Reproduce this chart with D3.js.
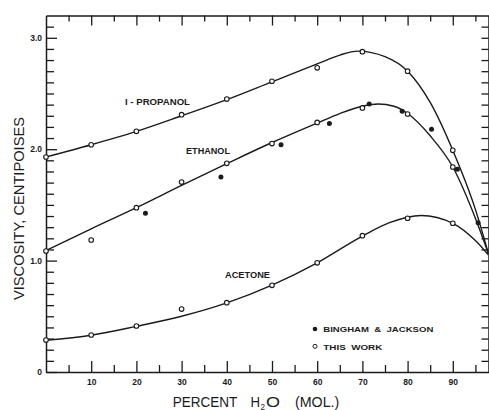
<!DOCTYPE html>
<html><head><meta charset="utf-8">
<script src="https://cdn.jsdelivr.net/npm/d3@7"></script>
<style>body{margin:0;background:#fff}svg{display:block}text{font-family:"Liberation Sans",Arial,Helvetica,sans-serif}</style>
</head><body>
<svg id="c" width="489" height="410"></svg>
<script>
// ---- tick labels ----
const xTickMajor = [10,20,30,40,50,60,70,80,90];
const xTickMinor = [5,15,25,35,45,55,65,75,85,95];
const yTickMajor = [0,1,2,3];
const yTickLabels = ["0","1.0","2.0","3.0"];

// ---- measured points ("This work", open circles) ----
const propanolX = [0,10,20,30,40,50,60,70,80,90];
const propanolY = [1.93,2.04,2.16,2.31,2.45,2.61,2.73,2.875,2.70,1.99];
const ethanolX  = [0,10,20,30,40,50,60,70,80,90];
const ethanolY  = [1.086,1.185,1.475,1.705,1.873,2.05,2.24,2.37,2.316,1.84];
const acetoneX  = [0,10,20,30,40,50,60,70,80,90];
const acetoneY  = [0.287,0.332,0.413,0.565,0.622,0.778,0.98,1.224,1.38,1.335];
// ---- Bingham & Jackson (filled dots, ethanol) ----
const binghamX = [22.0,38.7,52.0,62.7,71.5,78.8,85.3,91.0,95.6];
const binghamY = [1.425,1.75,2.04,2.23,2.405,2.34,2.18,1.82,1.34];

// ---- smooth curves ----
const propanolCurveX = [0,10,20,30,40,50,60,65,69,75,80,85,90,95,97.9];
const propanolCurveY = [1.93,2.04,2.16,2.30,2.445,2.605,2.765,2.845,2.88,2.83,2.70,2.42,1.99,1.46,1.06];
const ethanolCurveX  = [0,10,20,30,40,50,60,65,70,73.5,77,80,85,90,95,97.9];
const ethanolCurveY  = [1.09,1.285,1.475,1.675,1.87,2.06,2.235,2.32,2.385,2.405,2.385,2.32,2.12,1.84,1.38,1.06];
const acetoneCurveX  = [0,10,20,30,40,50,60,70,76,83,90,95,97.9];
const acetoneCurveY  = [0.285,0.33,0.41,0.50,0.62,0.78,0.98,1.22,1.34,1.405,1.335,1.18,1.05];

const ink = "#1b1b1b";
const svg = d3.select("#c");
const x = d3.scaleLinear().domain([0,97.9]).range([46,488.5]);
const y = d3.scaleLinear().domain([0,3.2]).range([372,15.5]);

svg.append("defs").append("clipPath").attr("id","plot")
  .append("rect").attr("x",x(0)).attr("y",y(3.2)).attr("width",x(97.9)-x(0)).attr("height",y(0)-y(3.2));

function style(g, keepDomain){
  g.select(".domain").attr("stroke", keepDomain ? ink : "none").attr("stroke-width",1.5);
  g.selectAll(".tick line").attr("stroke",ink).attr("stroke-width",1.3);
  g.selectAll(".tick text").attr("fill",ink).attr("font-size",8.5).attr("font-weight","bold")
   .attr("font-family",'"Liberation Sans",Arial,sans-serif');
}
const yMinor = d3.range(1,32).map(i=>i/10).filter(v=>Math.abs(v-Math.round(v))>1e-6);

// bottom
svg.append("g").attr("transform",`translate(0,${y(0)})`)
  .call(d3.axisBottom(x).tickValues(xTickMinor).tickSize(-7).tickSizeOuter(0).tickFormat(""))
  .call(g=>style(g,false));
svg.append("g").attr("transform",`translate(0,${y(0)})`)
  .call(d3.axisBottom(x).tickValues(xTickMajor).tickSize(-11).tickSizeOuter(0).tickPadding(7).tickFormat(d3.format("d")))
  .call(g=>style(g,true));
// top
svg.append("g").attr("transform",`translate(0,${y(3.2)})`)
  .call(d3.axisTop(x).tickValues(xTickMinor).tickSize(-6).tickSizeOuter(0).tickFormat(""))
  .call(g=>style(g,false));
svg.append("g").attr("transform",`translate(0,${y(3.2)})`)
  .call(d3.axisTop(x).tickValues(xTickMajor).tickSize(-10).tickSizeOuter(0).tickFormat(""))
  .call(g=>style(g,true));
// left
svg.append("g").attr("transform",`translate(${x(0)},0)`)
  .call(d3.axisLeft(y).tickValues(yMinor).tickSize(-8).tickSizeOuter(0).tickFormat(""))
  .call(g=>style(g,false));
svg.append("g").attr("transform",`translate(${x(0)},0)`)
  .call(d3.axisLeft(y).tickValues(yTickMajor).tickSize(-11).tickSizeOuter(0).tickPadding(4)
        .tickFormat((d,i)=>yTickLabels[i]))
  .call(g=>style(g,true));
// right
svg.append("g").attr("transform",`translate(${x(97.9)},0)`)
  .call(d3.axisRight(y).tickValues(d3.range(1,32).map(i=>i/10)).tickSize(-7).tickSizeOuter(0).tickFormat(""))
  .call(g=>style(g,true));

// curves
const line = d3.line().x(d=>x(d[0])).y(d=>y(d[1])).curve(d3.curveMonotoneX);
const curves = [
  d3.zip(propanolCurveX, propanolCurveY),
  d3.zip(ethanolCurveX, ethanolCurveY),
  d3.zip(acetoneCurveX, acetoneCurveY)
];
svg.append("g").attr("clip-path","url(#plot)").selectAll("path").data(curves).join("path")
  .attr("d",line).attr("fill","none").attr("stroke",ink).attr("stroke-width",1.4);

// open circles
const openPts = [].concat(d3.zip(propanolX,propanolY), d3.zip(ethanolX,ethanolY), d3.zip(acetoneX,acetoneY));
svg.append("g").selectAll("circle").data(openPts).join("circle")
  .attr("cx",d=>x(d[0])).attr("cy",d=>y(d[1])).attr("r",2.3)
  .attr("fill","#fff").attr("stroke",ink).attr("stroke-width",1.1);
// filled dots
svg.append("g").selectAll("circle").data(d3.zip(binghamX,binghamY)).join("circle")
  .attr("cx",d=>x(d[0])).attr("cy",d=>y(d[1])).attr("r",2.5).attr("fill",ink);

// curve labels
function label(t, x0, yb, len, fs){
  svg.append("text").attr("x",x0).attr("y",yb).attr("font-size",fs||8.5).attr("font-weight","bold")
    .attr("fill",ink).attr("textLength",len).attr("lengthAdjust","spacingAndGlyphs")
    .style("white-space","pre").text(t);
}
label("I - PROPANOL",125,105.3,65);
label("ETHANOL",186,154.3,44);
label("ACETONE",225,278,45);

// legend
svg.append("circle").attr("cx",315).attr("cy",329).attr("r",2.3).attr("fill",ink);
label("BINGHAM  &  JACKSON",323.3,332.2,110,8);
svg.append("circle").attr("cx",315).attr("cy",346.3).attr("r",2).attr("fill","#fff").attr("stroke",ink).attr("stroke-width",1);
label("THIS  WORK",323.3,349.5,59,8);

// axis titles
function title(t,x0,yb,len,fs){
  return svg.append("text").attr("x",x0).attr("y",yb).attr("font-size",fs).attr("fill",ink)
    .attr("textLength",len).attr("lengthAdjust","spacingAndGlyphs").text(t);
}
title("PERCENT",172.7,406.7,64.6,14.5);
title("H",250.5,406.7,9.5,14.5);
title("2",260.5,409.5,4.5,9);
title("O",266,406.7,14,14.5);
title("(MOL.)",295,406.7,44.3,14.5);

svg.append("text").attr("transform","translate(24,208.5) rotate(-90)").attr("text-anchor","middle")
  .attr("font-size",15).attr("fill",ink).attr("textLength",183).attr("lengthAdjust","spacingAndGlyphs")
  .text("VISCOSITY, CENTIPOISES");
</script>
</body></html>
